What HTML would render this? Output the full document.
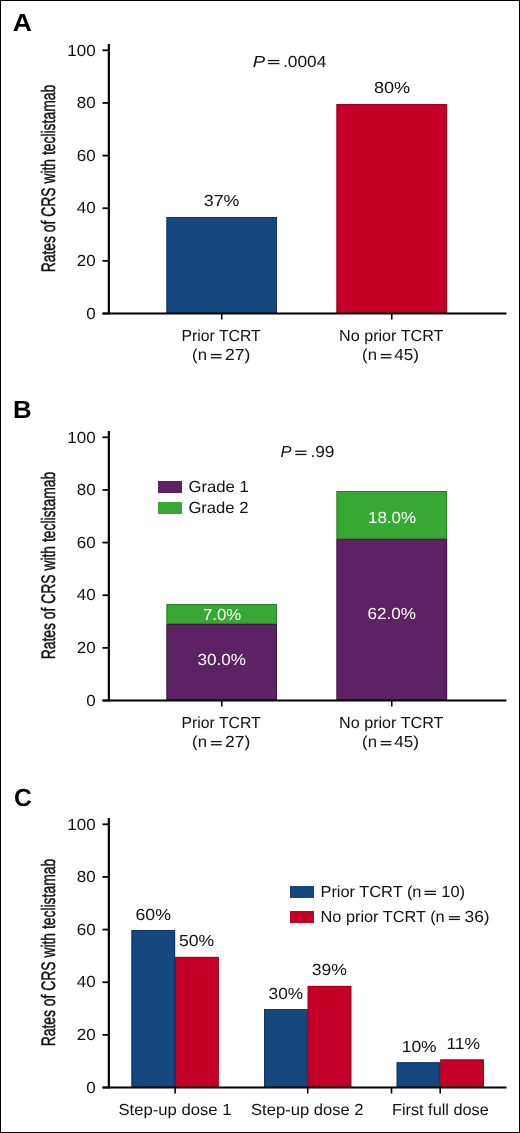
<!DOCTYPE html>
<html><head><meta charset="utf-8"><style>
html,body{margin:0;padding:0;background:#fff;}
svg{display:block;will-change:transform;}
text{text-rendering:geometricPrecision;}
.t{font-family:"Liberation Sans",sans-serif;font-size:16px;fill:#111;}
.tw{font-family:"Liberation Sans",sans-serif;font-size:16px;fill:#fff;}
.pl{font-family:"Liberation Sans",sans-serif;font-size:24.8px;font-weight:bold;fill:#000;}
.yl{font-family:"Liberation Sans",sans-serif;font-size:19.5px;fill:#111;stroke:#111;stroke-width:0.45px;}
</style></head><body>
<svg width="520" height="1133" viewBox="0 0 520 1133">
<rect x="0" y="0" width="520" height="1133" fill="#fff"/>
<rect x="166.50" y="217.00" width="110.50" height="96.50" fill="#15487e"/><rect x="166.95" y="217.45" width="109.60" height="95.60" fill="none" stroke="#0c3360" stroke-width="0.9"/>
<rect x="336.50" y="104.00" width="110.60" height="209.50" fill="#c50028"/><rect x="336.95" y="104.45" width="109.70" height="208.60" fill="none" stroke="#9a001f" stroke-width="0.9"/>
<line x1="108.85" y1="43.9" x2="108.85" y2="314.5" stroke="#000" stroke-width="2.2"/>
<line x1="102.5" y1="313.5" x2="506.5" y2="313.5" stroke="#000" stroke-width="2"/>
<line x1="102.5" y1="313.50" x2="108" y2="313.50" stroke="#000" stroke-width="1.8"/>
<text transform="translate(95.6,318.70) scale(1.06,1)" text-anchor="end" class="t">0</text>
<line x1="102.5" y1="260.86" x2="108" y2="260.86" stroke="#000" stroke-width="1.8"/>
<text transform="translate(95.6,266.06) scale(1.06,1)" text-anchor="end" class="t">20</text>
<line x1="102.5" y1="208.22" x2="108" y2="208.22" stroke="#000" stroke-width="1.8"/>
<text transform="translate(95.6,213.42) scale(1.06,1)" text-anchor="end" class="t">40</text>
<line x1="102.5" y1="155.58" x2="108" y2="155.58" stroke="#000" stroke-width="1.8"/>
<text transform="translate(95.6,160.78) scale(1.06,1)" text-anchor="end" class="t">60</text>
<line x1="102.5" y1="102.94" x2="108" y2="102.94" stroke="#000" stroke-width="1.8"/>
<text transform="translate(95.6,108.14) scale(1.06,1)" text-anchor="end" class="t">80</text>
<line x1="102.5" y1="50.30" x2="108" y2="50.30" stroke="#000" stroke-width="1.8"/>
<text transform="translate(95.6,55.50) scale(1.06,1)" text-anchor="end" class="t">100</text>
<text transform="translate(55.4,178.6) rotate(-90)" text-anchor="middle" class="yl" textLength="187.5" lengthAdjust="spacingAndGlyphs">Rates of CRS with teclistamab</text>
<line x1="221.75" y1="313.5" x2="221.75" y2="319.5" stroke="#000" stroke-width="1.6"/>
<line x1="391.75" y1="313.5" x2="391.75" y2="319.5" stroke="#000" stroke-width="1.6"/>
<rect x="166.50" y="623.80" width="110.50" height="76.70" fill="#5d2263"/><rect x="166.95" y="624.25" width="109.60" height="75.80" fill="none" stroke="#3d1542" stroke-width="0.9"/>
<rect x="166.50" y="604.10" width="110.50" height="19.70" fill="#38a835"/><rect x="166.95" y="604.55" width="109.60" height="18.80" fill="none" stroke="#2a7a28" stroke-width="0.9"/>
<rect x="336.50" y="538.60" width="110.60" height="161.90" fill="#5d2263"/><rect x="336.95" y="539.05" width="109.70" height="161.00" fill="none" stroke="#3d1542" stroke-width="0.9"/>
<rect x="336.50" y="491.10" width="110.60" height="47.50" fill="#38a835"/><rect x="336.95" y="491.55" width="109.70" height="46.60" fill="none" stroke="#2a7a28" stroke-width="0.9"/>
<line x1="108.85" y1="430.9" x2="108.85" y2="701.5" stroke="#000" stroke-width="2.2"/>
<line x1="102.5" y1="700.5" x2="506.5" y2="700.5" stroke="#000" stroke-width="2"/>
<line x1="102.5" y1="700.50" x2="108" y2="700.50" stroke="#000" stroke-width="1.8"/>
<text transform="translate(95.6,705.70) scale(1.06,1)" text-anchor="end" class="t">0</text>
<line x1="102.5" y1="647.86" x2="108" y2="647.86" stroke="#000" stroke-width="1.8"/>
<text transform="translate(95.6,653.06) scale(1.06,1)" text-anchor="end" class="t">20</text>
<line x1="102.5" y1="595.22" x2="108" y2="595.22" stroke="#000" stroke-width="1.8"/>
<text transform="translate(95.6,600.42) scale(1.06,1)" text-anchor="end" class="t">40</text>
<line x1="102.5" y1="542.58" x2="108" y2="542.58" stroke="#000" stroke-width="1.8"/>
<text transform="translate(95.6,547.78) scale(1.06,1)" text-anchor="end" class="t">60</text>
<line x1="102.5" y1="489.94" x2="108" y2="489.94" stroke="#000" stroke-width="1.8"/>
<text transform="translate(95.6,495.14) scale(1.06,1)" text-anchor="end" class="t">80</text>
<line x1="102.5" y1="437.30" x2="108" y2="437.30" stroke="#000" stroke-width="1.8"/>
<text transform="translate(95.6,442.50) scale(1.06,1)" text-anchor="end" class="t">100</text>
<text transform="translate(55.4,565.6) rotate(-90)" text-anchor="middle" class="yl" textLength="187.5" lengthAdjust="spacingAndGlyphs">Rates of CRS with teclistamab</text>
<line x1="221.75" y1="700.5" x2="221.75" y2="706.5" stroke="#000" stroke-width="1.6"/>
<line x1="391.75" y1="700.5" x2="391.75" y2="706.5" stroke="#000" stroke-width="1.6"/>
<rect x="158" y="481" width="24" height="12" fill="#5d2263"/>
<rect x="158" y="502" width="24" height="12" fill="#38a835"/>
<rect x="131.50" y="930.00" width="43.60" height="157.50" fill="#15487e"/><rect x="131.95" y="930.45" width="42.70" height="156.60" fill="none" stroke="#0c3360" stroke-width="0.9"/>
<rect x="175.10" y="956.90" width="43.60" height="130.60" fill="#c50028"/><rect x="175.55" y="957.35" width="42.70" height="129.70" fill="none" stroke="#9a001f" stroke-width="0.9"/>
<rect x="264.10" y="1009.10" width="43.60" height="78.40" fill="#15487e"/><rect x="264.55" y="1009.55" width="42.70" height="77.50" fill="none" stroke="#0c3360" stroke-width="0.9"/>
<rect x="307.70" y="985.90" width="43.60" height="101.60" fill="#c50028"/><rect x="308.15" y="986.35" width="42.70" height="100.70" fill="none" stroke="#9a001f" stroke-width="0.9"/>
<rect x="396.70" y="1062.30" width="43.60" height="25.20" fill="#15487e"/><rect x="397.15" y="1062.75" width="42.70" height="24.30" fill="none" stroke="#0c3360" stroke-width="0.9"/>
<rect x="440.30" y="1059.50" width="43.60" height="28.00" fill="#c50028"/><rect x="440.75" y="1059.95" width="42.70" height="27.10" fill="none" stroke="#9a001f" stroke-width="0.9"/>
<line x1="108.85" y1="817.9" x2="108.85" y2="1088.5" stroke="#000" stroke-width="2.2"/>
<line x1="102.5" y1="1087.5" x2="506.5" y2="1087.5" stroke="#000" stroke-width="2"/>
<line x1="102.5" y1="1087.50" x2="108" y2="1087.50" stroke="#000" stroke-width="1.8"/>
<text transform="translate(95.6,1092.70) scale(1.06,1)" text-anchor="end" class="t">0</text>
<line x1="102.5" y1="1034.86" x2="108" y2="1034.86" stroke="#000" stroke-width="1.8"/>
<text transform="translate(95.6,1040.06) scale(1.06,1)" text-anchor="end" class="t">20</text>
<line x1="102.5" y1="982.22" x2="108" y2="982.22" stroke="#000" stroke-width="1.8"/>
<text transform="translate(95.6,987.42) scale(1.06,1)" text-anchor="end" class="t">40</text>
<line x1="102.5" y1="929.58" x2="108" y2="929.58" stroke="#000" stroke-width="1.8"/>
<text transform="translate(95.6,934.78) scale(1.06,1)" text-anchor="end" class="t">60</text>
<line x1="102.5" y1="876.94" x2="108" y2="876.94" stroke="#000" stroke-width="1.8"/>
<text transform="translate(95.6,882.14) scale(1.06,1)" text-anchor="end" class="t">80</text>
<line x1="102.5" y1="824.30" x2="108" y2="824.30" stroke="#000" stroke-width="1.8"/>
<text transform="translate(95.6,829.50) scale(1.06,1)" text-anchor="end" class="t">100</text>
<text transform="translate(55.4,952.6) rotate(-90)" text-anchor="middle" class="yl" textLength="187.5" lengthAdjust="spacingAndGlyphs">Rates of CRS with teclistamab</text>
<line x1="175.1" y1="1087.5" x2="175.1" y2="1093.5" stroke="#000" stroke-width="1.6"/>
<line x1="307.7" y1="1087.5" x2="307.7" y2="1093.5" stroke="#000" stroke-width="1.6"/>
<line x1="391.5" y1="1087.5" x2="391.5" y2="1093.5" stroke="#000" stroke-width="1.6"/>
<line x1="440.2" y1="1087.5" x2="440.2" y2="1093.5" stroke="#000" stroke-width="1.6"/>
<rect x="290" y="886" width="24" height="12" fill="#15487e"/>
<rect x="290" y="911" width="24" height="12" fill="#c50028"/>
<text x="12.80" y="31.40" class="pl" textLength="19.15" lengthAdjust="spacingAndGlyphs">A</text>
<text x="13.00" y="418.30" class="pl" textLength="18.64" lengthAdjust="spacingAndGlyphs">B</text>
<text x="14.00" y="806.00" class="pl" textLength="17.81" lengthAdjust="spacingAndGlyphs">C</text>
<text x="252.80" y="66.60" class="t" textLength="12.38" lengthAdjust="spacingAndGlyphs"><tspan font-style="italic">P</tspan></text>
<text x="283.00" y="66.60" class="t" textLength="43.42" lengthAdjust="spacingAndGlyphs">.0004</text>
<text x="373.90" y="93.40" class="t" textLength="36.20" lengthAdjust="spacingAndGlyphs">80%</text>
<text x="203.80" y="206.30" class="t" textLength="35.66" lengthAdjust="spacingAndGlyphs">37%</text>
<text x="181.50" y="340.60" class="t" textLength="79.19" lengthAdjust="spacingAndGlyphs">Prior TCRT</text>
<text x="192.10" y="359.80" class="t" textLength="14.83" lengthAdjust="spacingAndGlyphs">(n</text>
<text x="225.00" y="359.80" class="t" textLength="25.22" lengthAdjust="spacingAndGlyphs">27)</text>
<text x="339.00" y="340.50" class="t" textLength="104.45" lengthAdjust="spacingAndGlyphs">No prior TCRT</text>
<text x="362.10" y="359.80" class="t" textLength="14.83" lengthAdjust="spacingAndGlyphs">(n</text>
<text x="394.25" y="359.80" class="t" textLength="24.75" lengthAdjust="spacingAndGlyphs">45)</text>
<text x="181.50" y="727.60" class="t" textLength="79.19" lengthAdjust="spacingAndGlyphs">Prior TCRT</text>
<text x="192.10" y="746.80" class="t" textLength="14.83" lengthAdjust="spacingAndGlyphs">(n</text>
<text x="225.00" y="746.80" class="t" textLength="25.22" lengthAdjust="spacingAndGlyphs">27)</text>
<text x="339.00" y="727.50" class="t" textLength="104.45" lengthAdjust="spacingAndGlyphs">No prior TCRT</text>
<text x="362.10" y="746.80" class="t" textLength="14.83" lengthAdjust="spacingAndGlyphs">(n</text>
<text x="394.25" y="746.80" class="t" textLength="24.75" lengthAdjust="spacingAndGlyphs">45)</text>
<text x="280.50" y="457.30" class="t" textLength="10.99" lengthAdjust="spacingAndGlyphs"><tspan font-style="italic">P</tspan></text>
<text x="310.40" y="457.30" class="t" textLength="24.03" lengthAdjust="spacingAndGlyphs">.99</text>
<text x="203.00" y="619.80" class="tw" textLength="38.24" lengthAdjust="spacingAndGlyphs">7.0%</text>
<text x="197.50" y="665.00" class="tw" textLength="48.37" lengthAdjust="spacingAndGlyphs">30.0%</text>
<text x="368.00" y="523.00" class="tw" textLength="48.06" lengthAdjust="spacingAndGlyphs">18.0%</text>
<text x="367.50" y="619.20" class="tw" textLength="48.37" lengthAdjust="spacingAndGlyphs">62.0%</text>
<text x="188.40" y="491.80" class="t" textLength="60.50" lengthAdjust="spacingAndGlyphs">Grade 1</text>
<text x="188.40" y="513.00" class="t" textLength="60.08" lengthAdjust="spacingAndGlyphs">Grade 2</text>
<text x="135.50" y="919.50" class="t" textLength="35.50" lengthAdjust="spacingAndGlyphs">60%</text>
<text x="178.90" y="946.40" class="t" textLength="35.34" lengthAdjust="spacingAndGlyphs">50%</text>
<text x="268.60" y="999.00" class="t" textLength="34.49" lengthAdjust="spacingAndGlyphs">30%</text>
<text x="311.80" y="974.90" class="t" textLength="35.23" lengthAdjust="spacingAndGlyphs">39%</text>
<text x="401.70" y="1051.50" class="t" textLength="34.91" lengthAdjust="spacingAndGlyphs">10%</text>
<text x="446.40" y="1048.80" class="t" textLength="33.61" lengthAdjust="spacingAndGlyphs">11%</text>
<text x="320.50" y="896.50" class="t" textLength="100.93" lengthAdjust="spacingAndGlyphs">Prior TCRT (n</text>
<text x="441.30" y="896.50" class="t" textLength="23.79" lengthAdjust="spacingAndGlyphs">10)</text>
<text x="320.50" y="922.00" class="t" textLength="124.15" lengthAdjust="spacingAndGlyphs">No prior TCRT (n</text>
<text x="464.50" y="922.00" class="t" textLength="25.11" lengthAdjust="spacingAndGlyphs">36)</text>
<text x="118.50" y="1114.50" class="t" textLength="112.99" lengthAdjust="spacingAndGlyphs">Step-up dose 1</text>
<text x="251.00" y="1114.50" class="t" textLength="112.59" lengthAdjust="spacingAndGlyphs">Step-up dose 2</text>
<text x="392.00" y="1114.50" class="t" textLength="96.68" lengthAdjust="spacingAndGlyphs">First full dose</text>
<rect x="267.9" y="59.90" width="11.50" height="1.3" fill="#111"/>
<rect x="267.9" y="62.90" width="11.50" height="1.3" fill="#111"/>
<rect x="295.3" y="450.60" width="11.20" height="1.3" fill="#111"/>
<rect x="295.3" y="453.80" width="11.20" height="1.3" fill="#111"/>
<rect x="210.9" y="353.95" width="10.70" height="1.3" fill="#111"/>
<rect x="210.9" y="357.10" width="10.70" height="1.3" fill="#111"/>
<rect x="380.7" y="353.95" width="10.70" height="1.3" fill="#111"/>
<rect x="380.7" y="357.10" width="10.70" height="1.3" fill="#111"/>
<rect x="210.9" y="740.95" width="10.70" height="1.3" fill="#111"/>
<rect x="210.9" y="744.10" width="10.70" height="1.3" fill="#111"/>
<rect x="380.7" y="740.95" width="10.70" height="1.3" fill="#111"/>
<rect x="380.7" y="744.10" width="10.70" height="1.3" fill="#111"/>
<rect x="424.5" y="890.75" width="11.50" height="1.3" fill="#111"/>
<rect x="424.5" y="893.65" width="11.50" height="1.3" fill="#111"/>
<rect x="448.9" y="916.10" width="11.00" height="1.3" fill="#111"/>
<rect x="448.9" y="918.75" width="11.00" height="1.3" fill="#111"/>
<rect x="0.5" y="0.5" width="519" height="1132" fill="none" stroke="#000" stroke-width="1"/>
</svg>
</body></html>
